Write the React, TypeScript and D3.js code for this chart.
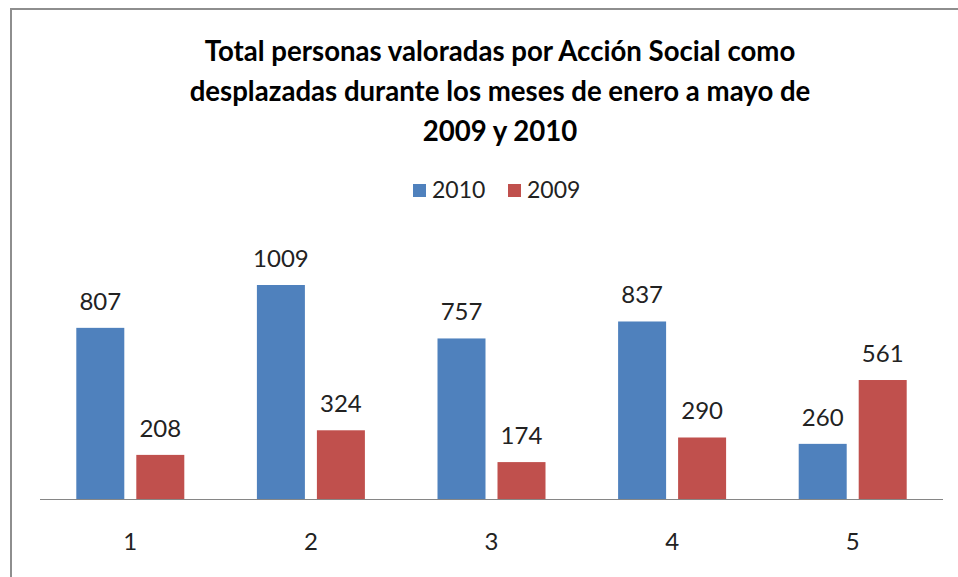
import React, { useRef, useEffect } from "react";
import * as d3 from "d3";

const categories = ["1", "2", "3", "4", "5"];
const seriesNames = ["2010", "2009"];
const values2010 = [807, 1009, 757, 837, 260];
const values2009 = [208, 324, 174, 290, 561];
const colors = ["#4F81BD", "#C0504D"];
const titleLines = [
    "Total personas valoradas por Acción Social como",
    "desplazadas durante los meses de enero a mayo de",
    "2009 y 2010",
];

export default function App() {
    const ref = useRef<SVGSVGElement | null>(null);

    useEffect(() => {
        const width = 958;
        const height = 577;
        const font = "Lato, 'Open Sans', sans-serif";

        d3.select(ref.current).selectAll("*").remove();

        const svg = d3
            .select(ref.current)
            .attr("width", width)
            .attr("height", height);

        svg.append("rect")
            .attr("width", width)
            .attr("height", height)
            .attr("fill", "#fff");

        // chart frame, cropped at right and bottom
        svg.append("rect")
            .attr("x", 11)
            .attr("y", 9)
            .attr("width", 1000)
            .attr("height", 700)
            .attr("fill", "none")
            .attr("stroke", "#8e8e8e")
            .attr("stroke-width", 2);

        // title
        svg.append("g")
            .selectAll("text")
            .data(titleLines)
            .enter()
            .append("text")
            .attr("x", 500)
            .attr("y", (_, i) => 61 + i * 40)
            .attr("text-anchor", "middle")
            .attr("font-family", font)
            .attr("font-weight", "bold")
            .attr("font-size", "27.6px")
            .attr("fill", "#000")
            .text((d) => d);

        // legend
        const legendX = [413, 508];
        const legend = svg.append("g")
            .selectAll("g")
            .data(seriesNames)
            .enter()
            .append("g")
            .attr("transform", (_, i) => `translate(${legendX[i]},184)`);
        legend.append("rect")
            .attr("width", 13)
            .attr("height", 13)
            .attr("fill", (_, i) => colors[i]);
        legend.append("text")
            .attr("x", 19)
            .attr("y", 14)
            .attr("font-family", font)
            .attr("font-size", "23px")
            .attr("fill", "#222")
            .text((d) => d);

        const x0 = d3.scaleBand<string>()
            .domain(categories)
            .range([40, 943]);
        const x1 = d3.scaleBand<string>()
            .domain(seriesNames)
            .range([-54, 54])
            .paddingInner(0.2);
        const y = d3.scaleLinear()
            .domain([0, 1200])
            .range([499, 244.5]);

        const series = [values2010, values2009];

        const groups = svg.append("g")
            .selectAll("g")
            .data(categories)
            .enter()
            .append("g")
            .attr("transform", (d) => `translate(${(x0(d) ?? 0) + x0.bandwidth() / 2},0)`);

        seriesNames.forEach((name, si) => {
            groups.append("rect")
                .attr("x", x1(name) ?? 0)
                .attr("y", (_, i) => y(series[si][i]))
                .attr("width", x1.bandwidth())
                .attr("height", (_, i) => y(0) - y(series[si][i]))
                .attr("fill", colors[si]);

            groups.append("text")
                .attr("x", (x1(name) ?? 0) + x1.bandwidth() / 2)
                .attr("y", (_, i) => y(series[si][i]) - 18)
                .attr("text-anchor", "middle")
                .attr("font-family", font)
                .attr("font-size", "24px")
                .attr("fill", "#222")
                .text((_, i) => series[si][i]);
        });

        // x axis
        svg.append("line")
            .attr("x1", 40)
            .attr("x2", 943)
            .attr("y1", 499.5)
            .attr("y2", 499.5)
            .attr("stroke", "#868686")
            .attr("stroke-width", 1);

        svg.append("g")
            .selectAll("text")
            .data(categories)
            .enter()
            .append("text")
            .attr("x", (d) => (x0(d) ?? 0) + x0.bandwidth() / 2)
            .attr("y", 550)
            .attr("text-anchor", "middle")
            .attr("font-family", font)
            .attr("font-size", "24px")
            .attr("fill", "#222")
            .text((d) => d);
    }, []);

    return (
        <div style={{ position: "absolute", left: 0, top: 0 }}>
            <svg ref={ref} style={{ display: "block" }}></svg>
        </div>
    );
}
